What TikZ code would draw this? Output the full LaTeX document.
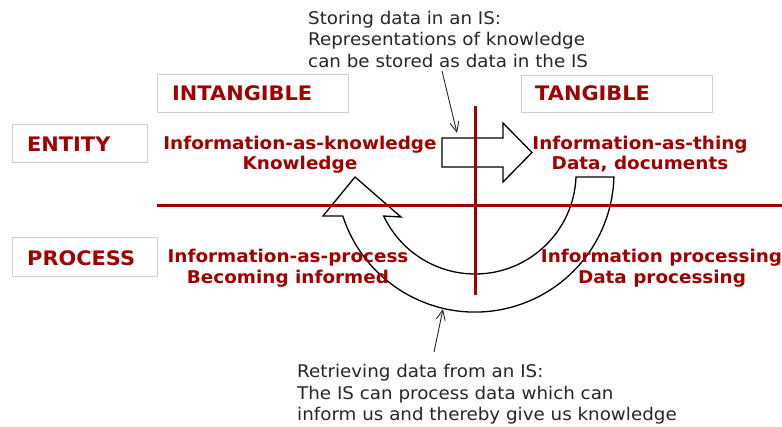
\documentclass[tikz,border=0pt]{standalone}
\usepackage{fontspec}
\setmainfont{DejaVu Sans}[FakeStretch=1.045]
\usetikzlibrary{arrows.meta}
\definecolor{dred}{HTML}{A00000}
\definecolor{boxgray}{HTML}{CFCFCF}
\definecolor{txtgray}{HTML}{262626}
\begin{document}
\begin{tikzpicture}[x=1pt,y=-1pt,
 hdr/.style={font=\fontsize{20}{24}\selectfont\bfseries, text=dred, anchor=base west, inner sep=0pt},
 lbl/.style={font=\fontsize{17.6}{20}\selectfont\bfseries, text=dred, anchor=base, inner sep=0pt},
 note/.style={font=\fontsize{17.5}{22}\selectfont, text=txtgray, anchor=base west, inner sep=0pt},
 hbox/.style={draw=boxgray, line width=0.8pt},
 axisline/.style={draw=dred, line width=3pt},
 blk/.style={draw=black, line width=1.3pt, line join=miter},
 ptr/.style={draw=txtgray, line width=0.9pt, -{Straight Barb[length=10pt,width=9pt]}}]
\useasboundingbox (0,0) rectangle (782,426);

% header boxes
\draw[hbox] (157,74) rectangle (348,112);
\draw[hbox] (521,75) rectangle (712,112);
\draw[hbox] (12,124) rectangle (147,162);
\draw[hbox] (12,237) rectangle (157,276);

% block arrows
\draw[blk] (442,138) -- (503,138) -- (503,123) -- (532,152.5) -- (503,182) -- (503,167) -- (442,167) -- cycle;
\draw[blk] (576,177) arc[start angle=2.27, end angle=154.8, radius=101]
  -- (401,217) -- (355,177) -- (323,216) -- (342.8,216)
  arc[start angle=162, end angle=1.65, radius=139] -- cycle;

% axes
\coordinate (vtop) at (475,106);
\coordinate (vbot) at (475,295);
\coordinate (hleft) at (157,205);
\coordinate (hright) at (782,205);
\draw[axisline] (vtop) -- (vbot);
\draw[axisline] (hleft) -- (hright);

% headers
\node[hdr] (intang) at (172,100.5) {INTANGIBLE};
\node[hdr] (tang) at (535,100.5) {TANGIBLE};
\node[hdr] (entity) at (27,151) {ENTITY};
\node[hdr] (process) at (27,265) {PROCESS};

% quadrant labels
\node[lbl] (k1) at (300,149) {Information-as-knowledge};
\node[lbl] (k2) at (300,169) {Knowledge};
\node[lbl] (t1) at (640,149) {Information-as-thing};
\node[lbl] (t2) at (640,169) {Data, documents};
\node[lbl] (p1) at (288,262) {Information-as-process};
\node[lbl] (p2) at (288,283) {Becoming informed};
\node[lbl] (d1) at (661.5,262) {Information processing};
\node[lbl] (d2) at (662,283) {Data processing};

% notes
\node[note] (s1) at (308,24) {Storing data in an IS:};
\node[note] (s2) at (308,45.5) {Representations of knowledge};
\node[note] (s3) at (308,67) {can be stored as data in the IS};
\node[note] (r1) at (297,377) {Retrieving data from an IS:};
\node[note] (r2) at (297,399) {The IS can process data which can};
\node[note] (r3) at (297,420) {inform us and thereby give us knowledge};

% pointers
\coordinate (sfrom) at (442,71);
\coordinate (sto) at (457,133);
\coordinate (rfrom) at (434,352);
\coordinate (rto) at (443,309);
\draw[ptr] (sfrom) -- (sto);
\draw[ptr] (rfrom) -- (rto);
\end{tikzpicture}
\end{document}
